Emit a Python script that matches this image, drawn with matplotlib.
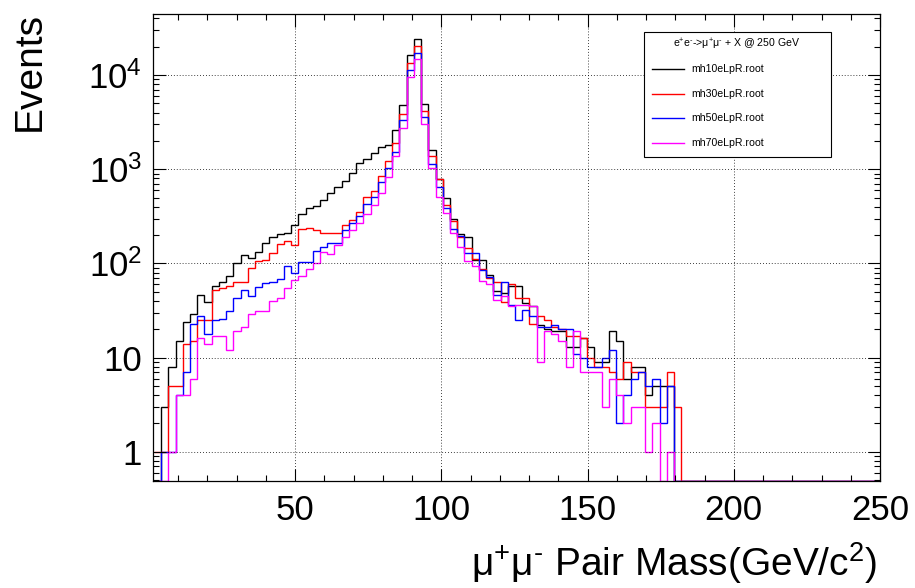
import numpy as np
import matplotlib
matplotlib.use("Agg")
import matplotlib.pyplot as plt
from matplotlib.ticker import FixedLocator, FixedFormatter, LogLocator, MultipleLocator, NullFormatter
from matplotlib.lines import Line2D
from matplotlib.patches import Rectangle

plt.rcParams['font.family'] = ['Liberation Sans', 'DejaVu Sans']
plt.rcParams['mathtext.fontset'] = 'custom'
plt.rcParams['mathtext.rm'] = 'Liberation Sans'
plt.rcParams['mathtext.it'] = 'Liberation Sans:italic'
plt.rcParams['mathtext.default'] = 'regular'

# ---- binning (GeV) ----
bin_lo = 1.7
bin_w = 2.47
n_bins = 100

# ---- events per bin (bins 0..72, rest empty) ----
mh10 = [0, 3, 8, 15, 24, 29, 46, 39, 58, 63, 74, 100, 123, 114, 132, 164, 190, 205, 213, 257,
        336, 386, 412, 466, 557, 655, 753, 908, 1161, 1280, 1503, 1715, 1815, 2620, 4860, 16300, 24100, 4920, 1600, 782,
        493, 297, 205, 193, 109, 108, 76, 51, 48, 58, 58, 38, 35, 22, 20, 19, 19, 13, 13, 16,
        13, 9, 9, 19, 15, 6, 8, 8, 4, 5, 5, 5, 0]
mh30 = [1, 1, 5, 5, 14, 15, 25, 25, 52, 55, 58, 64, 63, 89, 107, 109, 130, 160, 175, 157,
        231, 237, 227, 210, 210, 213, 253, 290, 356, 506, 594, 851, 1210, 1920, 3850, 13300, 20300, 4180, 1380, 780,
        419, 279, 190, 145, 111, 88, 70, 64, 39, 60, 43, 43, 23, 28, 25, 21, 20, 17, 17, 16,
        10, 8, 8, 7, 6, 9, 7, 7, 3, 3, 3, 7, 3]
mh50 = [0, 1, 1, 4, 7, 23, 28, 18, 25, 26, 31, 43, 52, 45, 56, 62, 64, 69, 93, 80,
        103, 103, 134, 151, 164, 164, 227, 272, 320, 430, 506, 740, 1026, 1530, 3350, 11350, 17000, 3620, 1140, 645,
        390, 233, 195, 129, 129, 85, 72, 46, 63, 36, 25, 32, 28, 21, 21, 22, 20, 20, 11, 10,
        8, 8, 10, 12, 2, 4, 6, 7, 5, 6, 2, 5, 0]
mh70 = [0, 0, 1, 4, 4, 6, 16, 14, 17, 17, 12, 19, 21, 29, 31, 31, 40, 43, 55, 66,
        73, 87, 102, 131, 127, 157, 193, 227, 272, 336, 419, 566, 837, 1380, 2770, 9480, 14800, 3000, 1040, 512,
        342, 213, 149, 107, 94, 65, 60, 41, 45, 35, 36, 36, 35, 9, 19, 18, 15, 8, 19, 7,
        7, 7, 3, 6, 4, 2, 3, 3, 1, 2, 0, 1, 0]

labels = ['mh10eLpR.root', 'mh30eLpR.root', 'mh50eLpR.root', 'mh70eLpR.root']
colors = ['#000000', '#ff0000', '#0000ff', '#ff00ff']

y_min, y_max = 0.49, 4.45e4
edges = bin_lo + bin_w * np.arange(n_bins + 1)

fig = plt.figure(figsize=(9.15, 5.88), dpi=100)
ax = fig.add_axes([153.3 / 915, 1 - 481 / 588, (880 - 153.3) / 915, (481 - 14) / 588])

for vals, c in zip([mh10, mh30, mh50, mh70], colors):
    v = np.zeros(n_bins)
    v[:len(vals)] = vals
    v = np.where(v > 0, v, y_min)   # ROOT draws empty bins on the frame bottom
    ax.stairs(v, edges, baseline=None, color=c, lw=1.0)

ax.set_yscale('log')
ax.set_xlim(1.5, 250)
ax.set_ylim(y_min, y_max)

ax.xaxis.set_major_locator(FixedLocator([50, 100, 150, 200, 250]))
ax.xaxis.set_minor_locator(MultipleLocator(10))
ax.yaxis.set_major_locator(FixedLocator([1, 10, 100, 1000, 10000]))
ax.yaxis.set_major_formatter(FixedFormatter(['1', '10', '$10^{2}$', '$10^{3}$', '$10^{4}$']))
ax.yaxis.set_minor_locator(LogLocator(base=10, subs=np.arange(2, 10), numticks=20))
ax.yaxis.set_minor_formatter(NullFormatter())

ax.tick_params(which='both', direction='in', top=True, right=True, width=0.8)
ax.tick_params(which='major', length=9, labelsize=25)
ax.tick_params(which='minor', length=4.5)
ax.tick_params(axis='x', pad=9)
ax.tick_params(axis='y', pad=8)
for s in ax.spines.values():
    s.set_linewidth(0.9)

ax.grid(True, which='major', color='black', linestyle=(0, (1, 2.5)), lw=0.6)

hy = '\u2010'  # short hyphen, as ROOT prints it in superscripts
fig.text(877 / 915, 0.004, 'μ$^{+}$μ$^{' + hy + '}$ Pair Mass(GeV/c$^{2}$)',
         ha='right', va='bottom', fontsize=28)
fig.text(30 / 915, 1 - 12 / 588, 'Events', rotation=90, ha='center', va='top', fontsize=28)

# ---- legend box (ROOT TLegend style) ----
def px(x, y):
    return x / 915, 1 - y / 588

x0, y0 = px(644, 157)
x1, y1 = px(831, 32)
fig.add_artist(Rectangle((x0, y0), x1 - x0, y1 - y0, transform=fig.transFigure,
                         facecolor='white', edgecolor='black', lw=0.8, zorder=5))
tx, ty = px(737, 44)
fig.text(tx, ty, 'e$^{+}$e$^{' + hy + '}$->μ$^{+}$μ$^{' + hy + '}$ + X @ 250 GeV',
         ha='center', va='center', fontsize=7.6, zorder=6)
for i, (lab, c) in enumerate(zip(labels, colors)):
    yy = 69 + 24.7 * i
    la, lb = px(652, yy), px(684, yy)
    fig.add_artist(Line2D([la[0], lb[0]], [la[1], lb[1]], transform=fig.transFigure,
                          color=c, lw=1.0, zorder=6))
    lt = px(691, yy)
    fig.text(lt[0], lt[1], lab, ha='left', va='center', fontsize=7.6, zorder=6)

fig.savefig('out.png', dpi=100)
